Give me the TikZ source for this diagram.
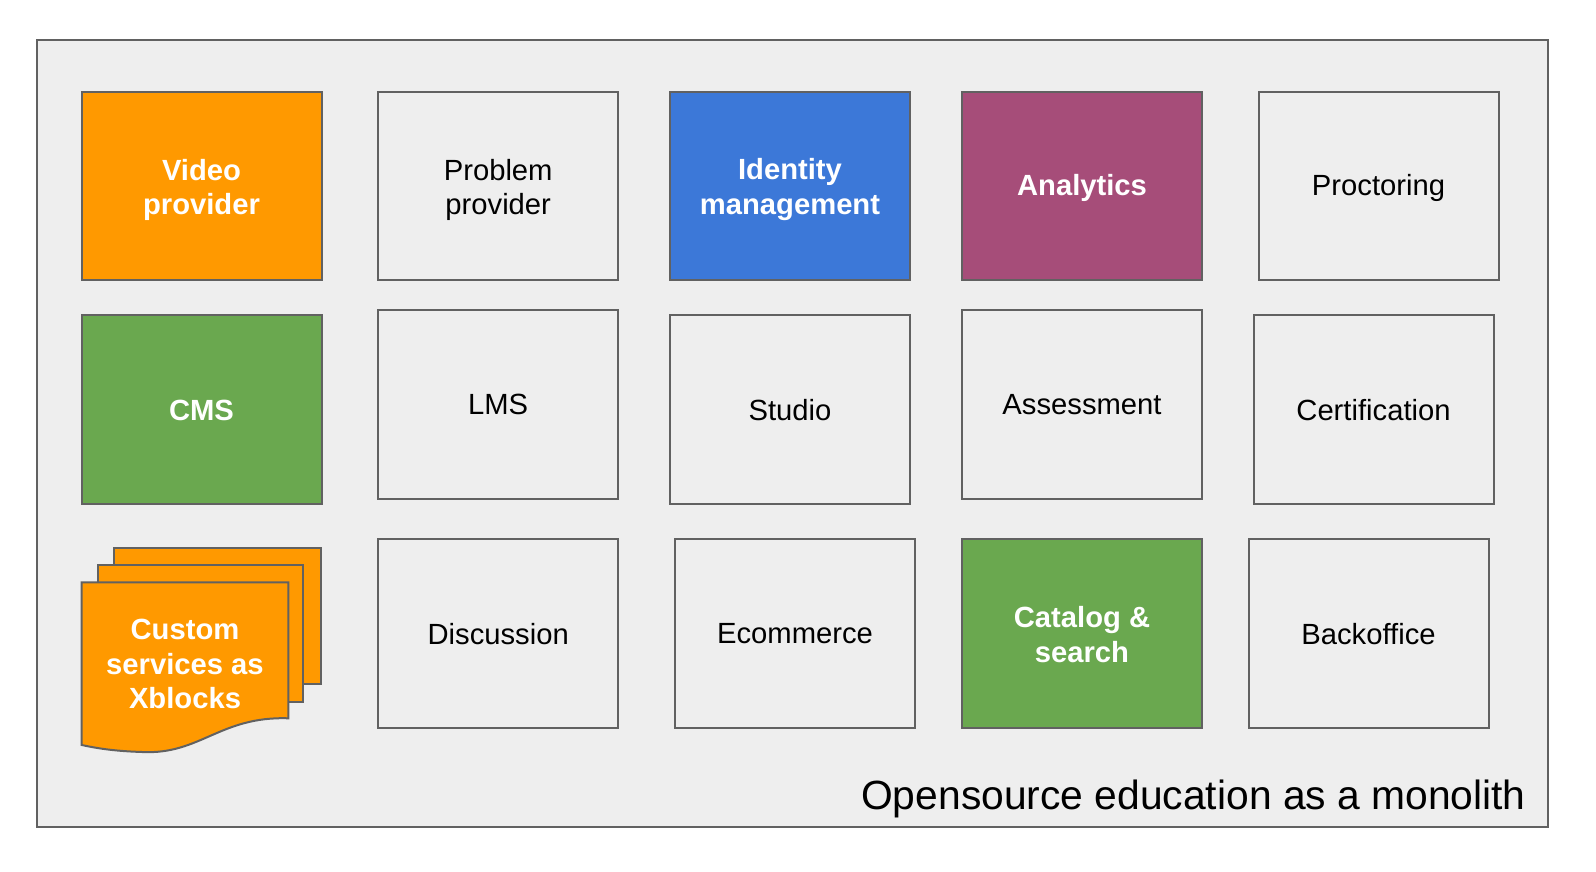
\documentclass[tikz,border=0pt]{standalone}
\usepackage{fontspec}
\setmainfont{Liberation Sans}
\definecolor{bg}{HTML}{EEEEEE}
\definecolor{edge}{HTML}{616161}
\definecolor{gorange}{HTML}{FF9900}
\definecolor{gblue}{HTML}{3C78D8}
\definecolor{gpurple}{HTML}{A64D79}
\definecolor{ggreen}{HTML}{6AA84F}
\tikzset{
  box/.style={draw=edge, line width=2pt, fill=bg, rectangle, inner sep=0pt,
    minimum width=240pt, minimum height=188.5pt},
  lbl/.style={inner sep=0pt, align=center, text=black,
    font=\fontsize{29.2}{34.6}\selectfont},
  clbl/.style={lbl, text=white, font=\fontsize{29.2}{34.6}\selectfont\bfseries},
  sheet/.style={draw=edge, line width=2pt, fill=gorange, line join=miter},
}
\begin{document}
\begin{tikzpicture}[x=1pt,y=-1pt]
\useasboundingbox (0,0) rectangle (1596,872);
\fill[white] (0,0) rectangle (1596,872);
\draw[draw=edge, line width=2pt, fill=bg] (36.6,40.5) rectangle (1547.5,827);

% row 1
\node[box, fill=gorange] (video) at (201.5,185.8) {};
\node[clbl] (videoT) at ([yshift=-4pt]video.center) {Video\\provider};
\node[box] (problem) at (498.2,185.8) {};
\node[lbl] (problemT) at ([yshift=-4pt]problem.center) {Problem\\provider};
\node[box, fill=gblue] (identity) at (790,185.8) {};
\node[clbl] (identityT) at ([yshift=-4pt]identity.center) {Identity\\management};
\node[box, fill=gpurple] (analytics) at (1082,185.8) {};
\node[clbl] (analyticsT) at ([yshift=-2pt]analytics.center) {Analytics};
\node[box] (proctoring) at (1378.5,185.8) {};
\node[lbl] (proctoringT) at ([yshift=-2pt]proctoring.center) {Proctoring};

% row 2
\node[box, fill=ggreen] (cms) at (201.5,409.7) {};
\node[clbl] (cmsT) at ([yshift=-1pt]cms.center) {CMS};
\node[box] (lms) at (498.2,404.7) {};
\node[lbl] (lmsT) at (lms.center) {LMS};
\node[box] (studio) at (790,409.7) {};
\node[lbl] (studioT) at (studio.center) {Studio};
\node[box] (assessment) at (1082,404.7) {};
\node[lbl] (assessmentT) at (assessment.center) {Assessment};
\node[box] (certification) at (1373.5,409.7) {};
\node[lbl] (certificationT) at (certification.center) {Certification};

% row 3
\node[box] (discussion) at (498.2,633.7) {};
\node[lbl] (discussionT) at (discussion.center) {Discussion};
\node[box] (ecommerce) at (795,633.7) {};
\node[lbl] (ecommerceT) at (ecommerce.center) {Ecommerce};
\node[box, fill=ggreen] (catalog) at (1082,633.7) {};
\node[clbl] (catalogT) at ([yshift=-1pt]catalog.center) {Catalog \&\\search};
\node[box] (backoffice) at (1368.5,633.7) {};
\node[lbl] (backofficeT) at (backoffice.center) {Backoffice};

% custom services stack
\draw[sheet] (114.3,547.7) rectangle (321,684);
\draw[sheet] (98.3,565) rectangle (303.3,701.7);
\draw[sheet] (81.7,582.3) -- (288.3,582.3) -- (288.3,718.3)
  .. controls (220,716) and (200,755) .. (142,752)
  .. controls (112,751) and (96,748) .. (81.7,745) -- cycle;
\node[clbl] (custom) at (185,664) {Custom\\services as\\Xblocks};

% title
\node[anchor=base east, inner sep=0pt, font=\fontsize{40.8}{48}\selectfont] (title) at (1526,809) {Opensource education as a monolith};
\end{tikzpicture}
\end{document}
